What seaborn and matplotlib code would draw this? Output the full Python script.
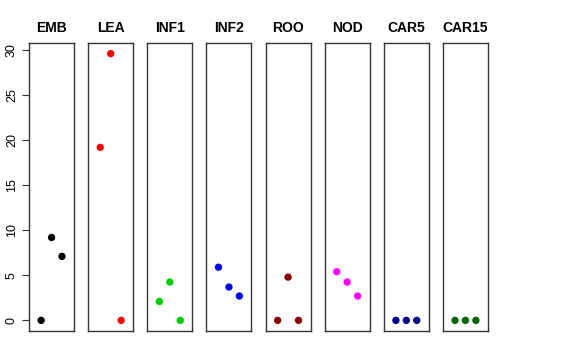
import pandas as pd
import numpy as np
import matplotlib
matplotlib.use('Agg')
import matplotlib.pyplot as plt
import seaborn as sns

tissues = ['EMB', 'LEA', 'INF1', 'INF2', 'ROO', 'NOD', 'CAR5', 'CAR15']
colors = ['black', 'red', '#00CD00', 'blue', '#8B0000', 'magenta', '#00008B', '#006400']
rep = [1, 2, 3]
emb = [0, 9.2, 7.1]
lea = [19.2, 29.6, 0]
inf1 = [2.1, 4.25, 0]
inf2 = [5.9, 3.7, 2.7]
roo = [0, 4.8, 0]
nod = [5.4, 4.25, 2.7]
car5 = [0, 0, 0]
car15 = [0, 0, 0]
values = [emb, lea, inf1, inf2, roo, nod, car5, car15]

sns.set_style('white')
plt.rcParams['font.family'] = ['Liberation Sans', 'DejaVu Sans']
plt.rcParams['text.color'] = 'black'
plt.rcParams['ytick.labelcolor'] = 'black'

fig, axes = plt.subplots(1, 8, figsize=(5.76, 3.6), dpi=100, sharey=True)
fig.subplots_adjust(left=29/576, right=488/576, top=1-43/360, bottom=1-331/360, wspace=14/45)

for ax, name, col, vals in zip(axes, tissues, colors, values):
    df = pd.DataFrame({'rep': rep, 'expr': vals})
    sns.scatterplot(data=df, x='rep', y='expr', color=col, s=28, edgecolor='none', ax=ax)
    ax.set_xlim(-0.16, 4.16)
    ax.set_ylim(-1.18, 30.78)
    ax.set_title(name, fontsize=10, fontweight='bold', pad=8, color='black')
    ax.set_xlabel('')
    ax.set_ylabel('')
    ax.set_xticks([])
    for sp in ax.spines.values():
        sp.set_color('#333333')
        sp.set_linewidth(1)
    ax.tick_params(left=False)

axes[0].set_yticks([0, 5, 10, 15, 20, 25, 30])
axes[0].tick_params(axis='y', left=True, length=5, width=0.8, color='#333333',
                    labelcolor='black', labelsize=9, pad=3)
for lab in axes[0].get_yticklabels():
    lab.set_rotation(90)
    lab.set_va('center')
for ax in axes[1:]:
    ax.tick_params(axis='y', labelleft=False)

fig.savefig('out.png', dpi=100)
